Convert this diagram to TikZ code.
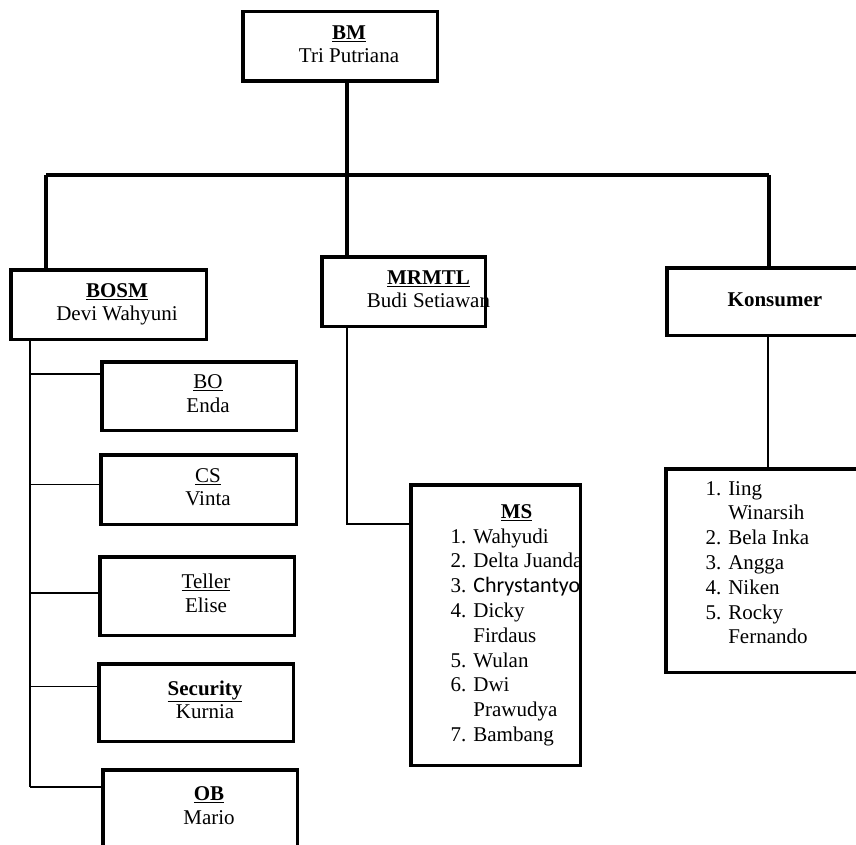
\documentclass[tikz,border=0pt]{standalone}
\usepackage{fontspec}
\setmainfont{Liberation Serif}
\newfontfamily\calibrifont{Carlito}
\usepackage{tikz}
\usetikzlibrary{calc}

% text of a box, moved right by half of #1
\newcommand{\boxtxt}[3]{\makebox[0pt]{\hspace*{#1}\begin{tabular}{@{}c@{}}#2\\#3\end{tabular}}}

\tikzset{
  orgbox/.style={draw, line width=3.5pt, inner sep=0pt},
  mainline/.style={line width=3.3pt},
  subline/.style={line width=1.6pt},
  listfont/.style={font=\fontsize{21}{24.8}\selectfont},
}

\begin{document}
\begin{tikzpicture}[x=1pt,y=-1pt,font=\fontsize{21}{23.5}\selectfont]
\useasboundingbox (0,0) rectangle (856,845);
\clip (0,0) rectangle (856,845);

% top
\node [orgbox, minimum width=194.5, minimum height=69.5] (bm) at (340,46.5) {\boxtxt{18pt}{\textbf{\underline{BM}}}{Tri Putriana}};

% second row
\node [orgbox, minimum width=195.5, minimum height=69.5] (bosm) at (108.5,304.5) {\boxtxt{17pt}{\textbf{\underline{BOSM}}}{Devi Wahyuni}};
\node [orgbox, minimum width=163.5, minimum height=69.5] (mrmtl) at (403.5,291.5) {\boxtxt{50pt}{\textbf{\underline{MRMTL}}}{Budi Setiawan}};
\node [orgbox, minimum width=192.25, minimum height=67.5] (kons) at (762.9,301.5) {\boxtxt{24pt}{\textbf{Konsumer}}{}};

% under BOSM
\node [orgbox, minimum width=194.5, minimum height=68.5] (bo) at (199,396) {\boxtxt{18pt}{\underline{BO}}{Enda}};
\node [orgbox, minimum width=195.5, minimum height=69.5] (cs) at (198.5,489.5) {\boxtxt{19pt}{\underline{CS}}{Vinta}};
\node [orgbox, minimum width=194.5, minimum height=78.5] (teller) at (197,596) {\boxtxt{18pt}{\underline{Teller}}{Elise}};
\node [orgbox, minimum width=194.5, minimum height=77.5] (security) at (196,702.5) {\boxtxt{18pt}{\textbf{\underline{Security}}}{Kurnia}};
\node [orgbox, minimum width=194.5, minimum height=76.5] (ob) at (200,808) {\boxtxt{18pt}{\textbf{\underline{OB}}}{Mario}};

% lists
\node [orgbox, listfont, minimum width=169.5, minimum height=280.5] (ms) at (495.5,625) {\makebox[0pt]{\hspace*{42pt}\begin{tabular}{@{}l@{}}
\multicolumn{1}{c}{\textbf{\underline{MS}}}\\
1. Wahyudi\\
2. Delta Juanda\\
3. {\calibrifont\fontsize{22}{24.8}\selectfont Chrystantyo}\\
4. Dicky\\
\phantom{4. }Firdaus\\
5. Wulan\\
6. Dwi\\
\phantom{6. }Prawudya\\
7. Bambang
\end{tabular}}};
\node [orgbox, listfont, minimum width=193.25, minimum height=203.5] (konslist) at (762.4,570.5) {\makebox[0pt]{\hspace*{-10pt}\begin{tabular}{@{}l@{}}
1. Iing\\
\phantom{1. }Winarsih\\
2. Bela Inka\\
3. Angga\\
4. Niken\\
5. Rocky\\
\phantom{5. }Fernando\\[12pt]
\end{tabular}}};

% main lines
\coordinate (jL) at (46,175);
\coordinate (jM) at (347,175);
\coordinate (jR) at (769,175);
\draw [mainline] (jL) -- (jR);
\draw [mainline] (jM |- bm.south) -- (jM |- mrmtl.north);
\draw [mainline] (jL) -- (jL |- bosm.north);
\draw [mainline] (jR) -- (jR |- kons.north);

% BOSM tree
\coordinate (trunk) at (30,0);
\foreach \n/\s in {bo/22,cs/5,teller/3,security/16,ob/21}
  \coordinate (\n-in) at ([yshift=\s pt]\n.west);
\draw [subline] (trunk |- bosm.south) -- (trunk |- ob-in);
\foreach \n in {bo,cs,teller,security,ob}
  \draw [subline] (trunk |- \n-in) -- (\n-in);

% MRMTL to MS, Konsumer to list
\coordinate (ms-in) at ([yshift=101pt]ms.west);
\draw [subline] (jM |- mrmtl.south) -- (jM |- ms-in) -- (ms-in);
\coordinate (kx) at (768,0);
\draw [subline] (kx |- kons.south) -- (kx |- konslist.north);
\end{tikzpicture}
\end{document}
